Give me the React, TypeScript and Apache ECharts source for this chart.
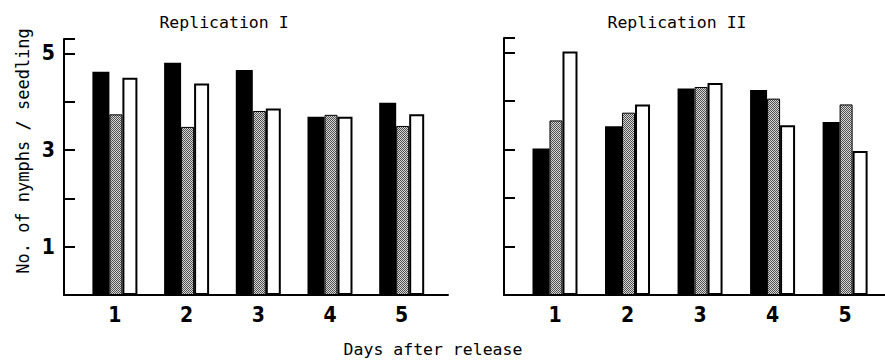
import React, { useEffect, useRef } from "react";
import * as echarts from "echarts";

const days = [1, 2, 3, 4, 5];
const dayLabels = ["1", "2", "3", "4", "5"];
const yTickLabels: Record<number, string> = { 1: "1", 3: "3", 5: "5" };

// Replication I
const rep1Black = [4.62, 4.81, 4.66, 3.69, 3.98];
const rep1Dotted = [3.74, 3.48, 3.81, 3.73, 3.5];
const rep1White = [4.5, 4.38, 3.86, 3.69, 3.74];

// Replication II
const rep2Black = [3.02, 3.48, 4.26, 4.23, 3.57];
const rep2Dotted = [3.6, 3.76, 4.29, 4.05, 3.93];
const rep2White = [5.02, 3.93, 4.37, 3.5, 2.97];

const titles = ["Replication I", "Replication II"];
const yName = "No. of nymphs / seedling";
const xName = "Days after release";

const MONO = "'DejaVu Sans Mono', 'Liberation Mono', monospace";
const NARROW = "'Liberation Sans Narrow', 'DejaVu Sans Condensed', sans-serif";

function makeStipple(): any {
  const c = document.createElement("canvas");
  c.width = 2;
  c.height = 2;
  const ctx = c.getContext("2d");
  if (!ctx) return "#a8a8a8";
  ctx.fillStyle = "#d6d6d6";
  ctx.fillRect(0, 0, 2, 2);
  ctx.fillStyle = "#505050";
  ctx.fillRect(0, 0, 1, 1);
  ctx.fillRect(1, 1, 1, 1);
  return { image: c, repeat: "repeat" };
}

export default function App() {
  const ref = useRef<HTMLDivElement>(null);
  useEffect(() => {
    document.body.style.margin = "0";
    if (!ref.current) return;
    const chart = echarts.init(ref.current, undefined, { renderer: "svg" });
    const stipple = makeStipple();

    const grids = [
      { left: 64, top: 39, width: 384, bottom: 66 },
      { left: 504, top: 38, width: 381, bottom: 66 },
    ];
    const xRanges = [
      [0.29, 5.646],
      [0.297, 5.55],
    ];

    const xAxes = grids.map((_, i) => ({
      type: "value",
      gridIndex: i,
      min: xRanges[i][0],
      max: xRanges[i][1],
      splitLine: { show: false },
      axisTick: { show: false },
      axisLine: { show: true, onZero: false, lineStyle: { color: "#000", width: 2 } },
      axisLabel: {
        customValues: days,
        formatter: (v: number) => dayLabels[days.indexOf(Math.round(v))] ?? "",
        color: "#000",
        fontFamily: NARROW,
        fontWeight: "bold",
        fontSize: 21,
        margin: 9,
      },
    }));

    const yAxes = grids.map((_, i) => ({
      type: "value",
      gridIndex: i,
      min: 0,
      max: 5.3,
      interval: 1,
      splitLine: { show: false },
      axisLine: { show: true, lineStyle: { color: "#000", width: 2 } },
      axisTick: { show: true, inside: true, length: 11, lineStyle: { color: "#000", width: 2 } },
      axisLabel: {
        show: i === 0,
        formatter: (v: number) => yTickLabels[v] ?? "",
        color: "#000",
        fontFamily: NARROW,
        fontWeight: "bold",
        fontSize: 21,
        margin: 9,
      },
    }));

    const sets = [
      [rep1Black, rep1Dotted, rep1White],
      [rep2Black, rep2Dotted, rep2White],
    ];
    const styles = [
      { barWidth: 17, itemStyle: { color: "#000", borderColor: "#000", borderWidth: 0 } },
      { barWidth: 13, itemStyle: { color: stipple, borderColor: "#000", borderWidth: 1 } },
      { barWidth: 15, itemStyle: { color: "#fff", borderColor: "#000", borderWidth: 2 } },
    ];
    const series: any[] = [];
    sets.forEach((set, gi) => {
      set.forEach((arr, si) => {
        series.push({
          type: "bar",
          xAxisIndex: gi,
          yAxisIndex: gi,
          data: days.map((d, k) => [d, arr[k]]),
          barWidth: styles[si].barWidth,
          barGap: "0%",
          itemStyle: styles[si].itemStyle,
          silent: true,
        });
      });
    });

    chart.setOption({
      animation: false,
      backgroundColor: "#fff",
      title: [
        { text: titles[0], left: 219, top: 9, textAlign: "center", textStyle: { fontFamily: MONO, fontSize: 16.5, fontWeight: "normal", color: "#000" } },
        { text: titles[1], left: 672, top: 9, textAlign: "center", textStyle: { fontFamily: MONO, fontSize: 16.5, fontWeight: "normal", color: "#000" } },
      ],
      grid: grids.map((g) => ({ ...g, containLabel: false, outerBoundsMode: "none" })),
      xAxis: xAxes,
      yAxis: yAxes,
      series,
      graphic: [
        {
          type: "text",
          x: 433,
          y: 349,
          style: { text: xName, align: "center", verticalAlign: "middle", font: `16.5px ${MONO}`, fill: "#000" },
        },
        {
          type: "text",
          x: 23,
          y: 151,
          rotation: Math.PI / 2,
          style: { text: yName, align: "center", verticalAlign: "middle", font: `17px ${MONO}`, fill: "#000" },
        },
      ],
    });
    return () => chart.dispose();
  }, []);
  return <div ref={ref} style={{ width: 885, height: 361 }} />;
}
